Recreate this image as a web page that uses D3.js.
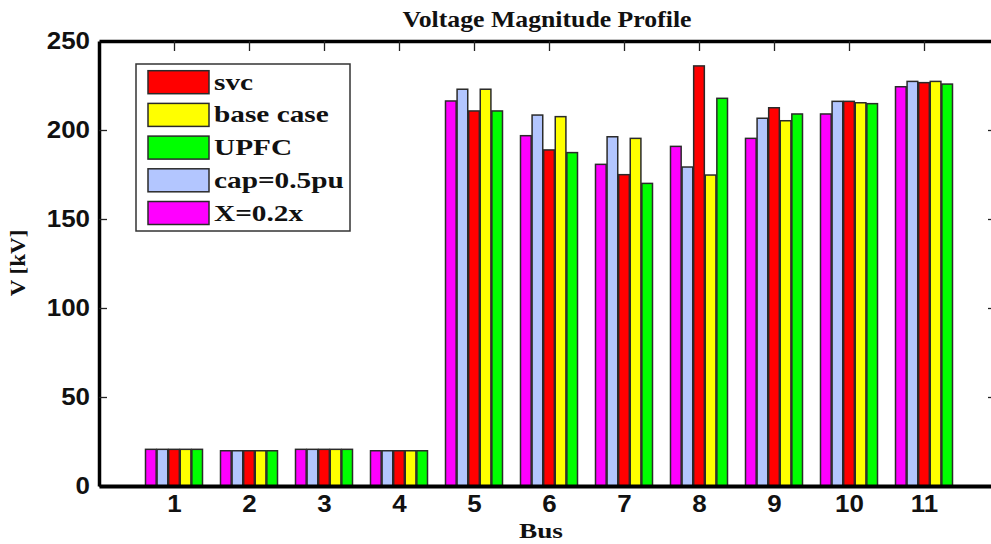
<!DOCTYPE html>
<html>
<head>
<meta charset="utf-8">
<script src="https://cdn.jsdelivr.net/npm/d3@7"></script>
<style>
  body { margin: 0; background: #fff; }
  svg { display: block; }
</style>
</head>
<body>
<svg id="chart" width="991" height="544"></svg>
<script>
// bus numbers and voltage values (kV)
const buses = [1, 2, 3, 4, 5, 6, 7, 8, 9, 10, 11];
const xReduced = [20.6, 19.8, 20.6, 19.8, 216.3, 196.8, 180.7, 190.8, 195.3, 209.0, 224.3];
const capHalf = [20.6, 19.8, 20.6, 19.8, 222.9, 208.4, 196.2, 179.2, 206.6, 216.1, 227.3];
const svc = [20.6, 19.8, 20.6, 19.8, 210.7, 188.8, 174.9, 236.0, 212.5, 216.1, 226.6];
const baseCase = [20.6, 19.8, 20.6, 19.8, 222.9, 207.5, 195.3, 174.7, 205.2, 215.3, 227.3];
const upfc = [20.6, 19.8, 20.6, 19.8, 210.7, 187.3, 170.0, 217.8, 209.0, 214.8, 225.8];
const yTicks = [0, 50, 100, 150, 200, 250];

// bar order within a group (left to right)
const series = [
  { key: 'X=0.2x', values: xReduced, color: '#ff00ff' },
  { key: 'cap=0.5pu', values: capHalf, color: '#b3c6ff' },
  { key: 'svc', values: svc, color: '#ff0000' },
  { key: 'base case', values: baseCase, color: '#ffff00' },
  { key: 'UPFC', values: upfc, color: '#00ff00' }
];
// legend order
const legendKeys = ['svc', 'base case', 'UPFC', 'cap=0.5pu', 'X=0.2x'];

const svg = d3.select('#chart');
const m = { left: 99, top: 41, bottom: 486, right: 999 };

const x = d3.scaleLinear().domain([0, 12]).range([m.left, m.right]);
const y = d3.scaleLinear().domain([0, 250]).range([m.bottom, m.top]);
const inner = d3.scaleBand()
  .domain(series.map(s => s.key))
  .range([-0.38, 0.38])
  .paddingInner(0.08);

const sans = 'Liberation Sans, Arial, sans-serif';
const serif = 'Liberation Serif, Times New Roman, serif';

// stretch a text to a wider look like the original scan
const stretch = (sel, k) => sel.each(function() {
  const w = this.getComputedTextLength();
  d3.select(this).attr('textLength', w * k).attr('lengthAdjust', 'spacingAndGlyphs');
});

// bars
const groups = svg.append('g').selectAll('g')
  .data(series)
  .join('g')
  .attr('fill', d => d.color);

groups.selectAll('rect')
  .data(s => s.values.map((v, i) => ({ key: s.key, bus: buses[i], v })))
  .join('rect')
  .attr('x', d => x(d.bus + inner(d.key)))
  .attr('width', d => x(inner.bandwidth()) - x(0))
  .attr('y', d => y(d.v))
  .attr('height', d => y(0) - y(d.v))
  .attr('stroke', '#2a2a2a')
  .attr('stroke-width', 1.5);

// axes
const yAxis = svg.append('g')
  .attr('transform', `translate(${m.left},0)`)
  .call(d3.axisLeft(y).tickValues(yTicks).tickSize(-8).tickSizeOuter(0).tickPadding(9));
yAxis.select('.domain').attr('stroke', '#000').attr('stroke-width', 3.5);
yAxis.selectAll('.tick line').attr('stroke', '#222').attr('stroke-width', 1.3);
yAxis.selectAll('text')
  .attr('font-family', sans).attr('font-weight', 'bold').attr('font-size', 24)
  .attr('fill', '#111')
  .call(stretch, 1.08);
yAxis.select('.tick:last-of-type line').remove();

const yAxisR = svg.append('g')
  .attr('transform', `translate(${m.right},0)`)
  .call(d3.axisRight(y).tickValues(yTicks).tickSize(-11).tickSizeOuter(0).tickFormat(''));
yAxisR.select('.domain').attr('stroke', '#000').attr('stroke-width', 3.5);
yAxisR.selectAll('.tick line').attr('stroke', '#222').attr('stroke-width', 1.3);

const xAxisTop = svg.append('g')
  .attr('transform', `translate(0,${m.top})`)
  .call(d3.axisTop(x).tickValues(buses).tickSize(-10).tickSizeOuter(0).tickFormat(''));
xAxisTop.select('.domain').attr('stroke', '#000').attr('stroke-width', 3.5);
xAxisTop.selectAll('.tick line').attr('stroke', '#222').attr('stroke-width', 1.3);

const xAxis = svg.append('g')
  .attr('transform', `translate(0,${m.bottom})`)
  .call(d3.axisBottom(x).tickValues(buses).tickSize(0).tickSizeOuter(0).tickPadding(9));
xAxis.select('.domain').attr('stroke', '#000').attr('stroke-width', 4);
xAxis.selectAll('text')
  .attr('font-family', sans).attr('font-weight', 'bold').attr('font-size', 24)
  .attr('fill', '#111')
  .call(stretch, 1.08);

// title and axis labels
svg.append('text')
  .attr('x', 547).attr('y', 27)
  .attr('text-anchor', 'middle')
  .attr('font-family', serif).attr('font-weight', 'bold').attr('font-size', 23)
  .attr('fill', '#111')
  .text('Voltage Magnitude Profile')
  .call(stretch, 1.12);

svg.append('text')
  .attr('x', 541).attr('y', 538)
  .attr('text-anchor', 'middle')
  .attr('font-family', serif).attr('font-weight', 'bold').attr('font-size', 21)
  .attr('fill', '#111')
  .text('Bus')
  .call(stretch, 1.3);

svg.append('text')
  .attr('transform', 'translate(25,263) rotate(-90)')
  .attr('text-anchor', 'middle')
  .attr('font-family', serif).attr('font-weight', 'bold').attr('font-size', 20)
  .attr('fill', '#111')
  .text('V [kV]')
  .call(stretch, 1.15);

// legend
const legend = svg.append('g');
legend.append('rect')
  .attr('x', 136).attr('y', 64).attr('width', 214).attr('height', 167)
  .attr('fill', '#fff').attr('stroke', '#333').attr('stroke-width', 1.5);

const rows = legend.selectAll('g.row')
  .data(legendKeys.map(k => series.find(s => s.key === k)))
  .join('g')
  .attr('class', 'row')
  .attr('transform', (d, i) => `translate(0,${70.7 + i * 32.7})`);

rows.append('rect')
  .attr('x', 148).attr('width', 61).attr('height', 23)
  .attr('fill', d => d.color)
  .attr('stroke', '#2a2a2a').attr('stroke-width', 1.5);

rows.append('text')
  .attr('x', 214).attr('y', 19)
  .attr('font-family', serif).attr('font-weight', 'bold').attr('font-size', 24)
  .attr('fill', '#111')
  .text(d => d.key)
  .call(stretch, 1.22);
</script>
</body>
</html>
